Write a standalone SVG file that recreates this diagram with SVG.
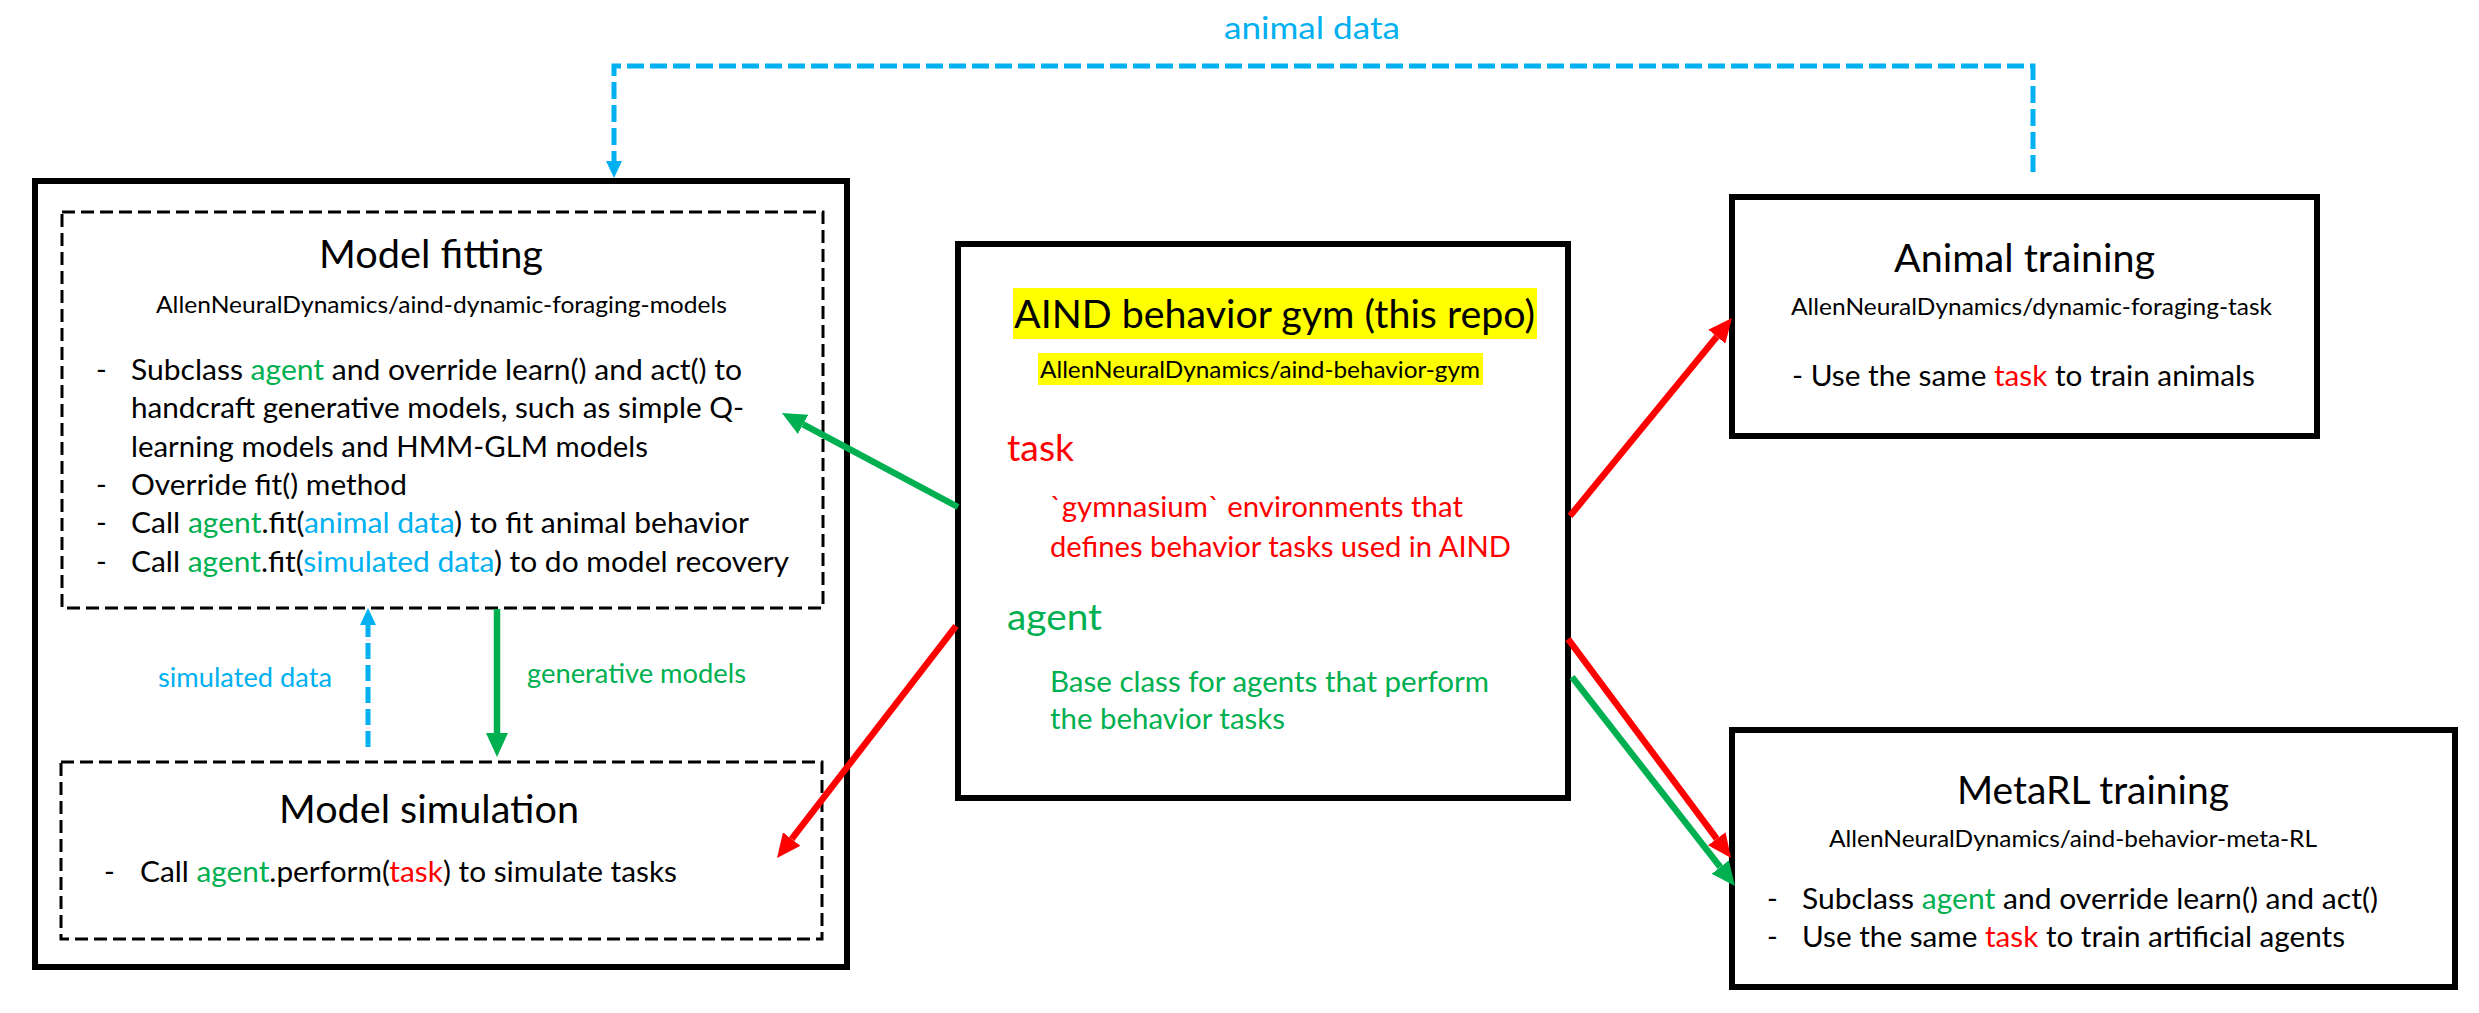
<svg xmlns="http://www.w3.org/2000/svg" width="2479" height="1013" viewBox="0 0 2479 1013">
<style>
text { font-family: Lato, "Liberation Sans", sans-serif; fill: #000; }
.box { fill: #fff; stroke: #000; stroke-width: 6; }
.dbox { fill: none; stroke: #000; stroke-width: 3; stroke-dasharray: 13 6; }
.hl { fill: #FFFF00; }
.title { font-size: 38px; }
.sub { font-size: 23.5px; }
.body { font-size: 29px; }
.head { font-size: 36px; }
.lbl { font-size: 26px; }
.g { fill: #00B050; }
.r { fill: #FF0000; }
.b { fill: #00B0F0; }
.red { stroke: #FF0000; stroke-width: 6.5; fill: none; marker-end: url(#ah-red); }
.grn { stroke: #00B050; stroke-width: 6.5; fill: none; marker-end: url(#ah-grn); }
.blu { stroke: #00B0F0; stroke-width: 5; fill: none; stroke-dasharray: 17 6; marker-end: url(#ah-blu); }
</style>
<defs>
<marker id="ah-red" viewBox="0 -11 24 22" refX="0" refY="0" markerWidth="24" markerHeight="22" markerUnits="userSpaceOnUse" orient="auto"><path d="M0,-11 L24,0 L0,11 Z" fill="#FF0000"/></marker>
<marker id="ah-grn" viewBox="0 -11 24 22" refX="0" refY="0" markerWidth="24" markerHeight="22" markerUnits="userSpaceOnUse" orient="auto"><path d="M0,-11 L24,0 L0,11 Z" fill="#00B050"/></marker>
<marker id="ah-blu" viewBox="0 -8 17 16" refX="0" refY="0" markerWidth="17" markerHeight="16" markerUnits="userSpaceOnUse" orient="auto"><path d="M0,-8 L17,0 L0,8 Z" fill="#00B0F0"/></marker>
</defs>
<rect width="2479" height="1013" fill="#fff"/>

<g id="node-left-panel">
<rect class="box" x="35" y="181" width="812" height="786"/>
</g>

<g id="node-model-fitting">
<rect class="dbox" x="62" y="212" width="761" height="396"/>
<text class="title" x="319" y="268" textLength="224" lengthAdjust="spacingAndGlyphs">Model fitting</text>
<text class="sub" x="156" y="313" textLength="571" lengthAdjust="spacingAndGlyphs">AllenNeuralDynamics/aind-dynamic-foraging-models</text>
<text class="body" x="96" y="380">-</text>
<text class="body" x="131" y="380" textLength="611" lengthAdjust="spacingAndGlyphs">Subclass <tspan class="g">agent</tspan> and override learn() and act() to</text>
<text class="body" x="131" y="418" textLength="613" lengthAdjust="spacingAndGlyphs">handcraft generative models, such as simple Q-</text>
<text class="body" x="131" y="457" textLength="517" lengthAdjust="spacingAndGlyphs">learning models and HMM-GLM models</text>
<text class="body" x="96" y="495">-</text>
<text class="body" x="131" y="495" textLength="276" lengthAdjust="spacingAndGlyphs">Override fit() method</text>
<text class="body" x="96" y="533">-</text>
<text class="body" x="131" y="533" textLength="618" lengthAdjust="spacingAndGlyphs">Call <tspan class="g">agent</tspan>.fit(<tspan class="b">animal data</tspan>) to fit animal behavior</text>
<text class="body" x="96" y="572">-</text>
<text class="body" x="131" y="572" textLength="658" lengthAdjust="spacingAndGlyphs">Call <tspan class="g">agent</tspan>.fit(<tspan class="b">simulated data</tspan>) to do model recovery</text>
</g>

<g id="node-model-simulation">
<rect class="dbox" x="61" y="762" width="761" height="177"/>
<text class="title" x="279" y="823" textLength="300" lengthAdjust="spacingAndGlyphs">Model simulation</text>
<text class="body" x="104" y="882">-</text>
<text class="body" x="140" y="882" textLength="537" lengthAdjust="spacingAndGlyphs">Call <tspan class="g">agent</tspan>.perform(<tspan class="r">task</tspan>) to simulate tasks</text>
</g>

<g id="node-gym">
<rect class="box" x="958" y="244" width="610" height="554"/>
<rect class="hl" x="1013" y="288" width="524" height="51"/>
<rect class="hl" x="1038" y="353" width="445" height="32"/>
<text class="title" x="1014" y="328" textLength="521" lengthAdjust="spacingAndGlyphs">AIND behavior gym (this repo)</text>
<text class="sub" x="1040" y="378" textLength="440" lengthAdjust="spacingAndGlyphs">AllenNeuralDynamics/aind-behavior-gym</text>
<text class="head r" x="1007" y="461" textLength="67" lengthAdjust="spacingAndGlyphs">task</text>
<text class="body r" x="1050" y="517" textLength="413" lengthAdjust="spacingAndGlyphs">`gymnasium` environments that</text>
<text class="body r" x="1050" y="557" textLength="461" lengthAdjust="spacingAndGlyphs">defines behavior tasks used in AIND</text>
<text class="head g" x="1007" y="630" textLength="95" lengthAdjust="spacingAndGlyphs">agent</text>
<text class="body g" x="1050" y="692" textLength="439" lengthAdjust="spacingAndGlyphs">Base class for agents that perform</text>
<text class="body g" x="1050" y="729" textLength="235" lengthAdjust="spacingAndGlyphs">the behavior tasks</text>
</g>

<g id="node-animal-training">
<rect class="box" x="1732" y="197" width="585" height="239"/>
<text class="title" x="1894" y="272" textLength="261" lengthAdjust="spacingAndGlyphs">Animal training</text>
<text class="sub" x="1791" y="315" textLength="481" lengthAdjust="spacingAndGlyphs">AllenNeuralDynamics/dynamic-foraging-task</text>
<text class="body" x="1792" y="386" textLength="463" lengthAdjust="spacingAndGlyphs">- Use the same <tspan class="r">task</tspan> to train animals</text>
</g>

<g id="node-metarl-training">
<rect class="box" x="1732" y="730" width="723" height="257"/>
<text class="title" x="1957" y="804" textLength="272" lengthAdjust="spacingAndGlyphs">MetaRL training</text>
<text class="sub" x="1829" y="847" textLength="488" lengthAdjust="spacingAndGlyphs">AllenNeuralDynamics/aind-behavior-meta-RL</text>
<text class="body" x="1767" y="909">-</text>
<text class="body" x="1802" y="909" textLength="576" lengthAdjust="spacingAndGlyphs">Subclass <tspan class="g">agent</tspan> and override learn() and act()</text>
<text class="body" x="1767" y="947">-</text>
<text class="body" x="1802" y="947" textLength="543" lengthAdjust="spacingAndGlyphs">Use the same <tspan class="r">task</tspan> to train artificial agents</text>
</g>

<g id="connectors">
<path class="blu" d="M2033 172 V66 H614 V161"/>
<text class="lbl b" x="1224" y="39" style="font-size:30px" textLength="176" lengthAdjust="spacingAndGlyphs">animal data</text>
<path class="blu" style="stroke-dasharray:16 6" d="M368 747 V625"/>
<text class="lbl b" x="158" y="687" textLength="174" lengthAdjust="spacingAndGlyphs">simulated data</text>
<path class="grn" d="M497 609 V733"/>
<text class="lbl g" x="527" y="683" textLength="219" lengthAdjust="spacingAndGlyphs">generative models</text>
<path class="grn" d="M958 507 L803.1 424.4"/>
<path class="red" d="M956 626 L791.7 839"/>
<path class="red" d="M1570 516 L1716.8 336.6"/>
<path class="red" d="M1568 639 L1716.7 838.7"/>
<path class="grn" d="M1572 677 L1720.2 867.1"/>
</g>
</svg>
